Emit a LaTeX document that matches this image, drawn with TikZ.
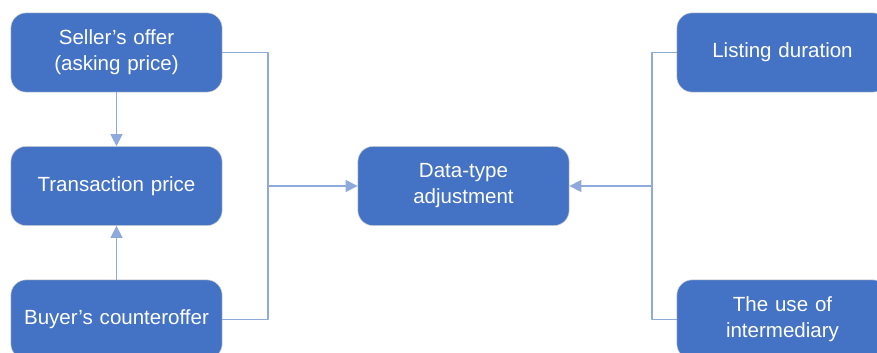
\documentclass[tikz,border=0pt]{standalone}
\usepackage{fontspec}
\setmainfont{Liberation Sans}
\usetikzlibrary{arrows.meta}
\definecolor{boxblue}{HTML}{4472C4}
\definecolor{linkblue}{HTML}{8EA9DB}
\begin{document}
\begin{tikzpicture}[x=0.025cm,y=-0.025cm,line join=round,
	box/.style={rectangle,rounded corners=0.38cm,fill=boxblue,draw=gray!35,line width=0.4pt,
		minimum width=5.28cm,minimum height=1.98cm,text width=5cm,align=center,
		text=white,font=\fontsize{14.6}{18.5}\selectfont},
	link/.style={draw=linkblue,line width=1.05pt},
	arr/.style={link,-{Triangle[length=0.3cm,width=0.3cm]}}]
	% Khung hình
	\useasboundingbox (0,0) rectangle (877,353);
	\clip (0,0) rectangle (877,353);
	
	% Cột trái: giá
	\node[box] (seller) at (116.5,52.5) {Seller's offer\\(asking price)};
	\node[box] (trans) at (116.5,186) {Transaction price};
	\node[box] (buyer) at (116.5,319.5) {Buyer's counteroffer};
	
	% Ô giữa
	\node[box] (adjust) at (463.5,186) {Data-type\\adjustment};
	
	% Cột phải
	\node[box] (listing) at (782.5,52.5) {Listing duration};
	\node[box] (interm) at (782.5,319.5) {The use of\\intermediary};
	
	% Điểm nối
	\coordinate (lj) at (268,186);
	\coordinate (rj) at (652,186);
	
	% Mũi tên cột trái
	\draw[arr] (seller) -- (trans);
	\draw[arr] (buyer) -- (trans);
	\draw[link] (seller.east) -| (lj) |- (buyer.east);
	\draw[arr] (lj) -- (adjust.west);
	
	% Mũi tên cột phải
	\draw[link] (listing.west) -| (rj) |- (interm.west);
	\draw[arr] (rj) -- (adjust.east);
\end{tikzpicture}
\end{document}
